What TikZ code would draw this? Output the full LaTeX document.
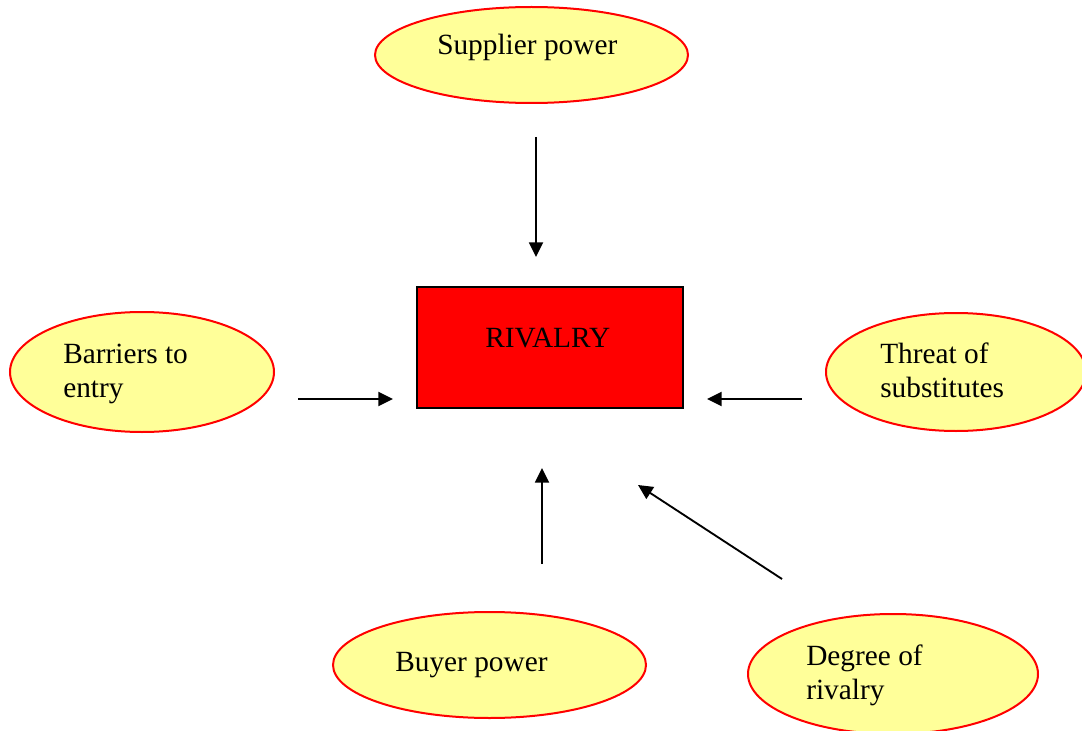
\documentclass[tikz,border=0pt]{standalone}
\usepackage{fontspec}
\setmainfont{Liberation Serif}
\usetikzlibrary{shapes.geometric,arrows.meta}
\definecolor{pale}{HTML}{FFFF99}
\begin{document}
\begin{tikzpicture}[x=0.75pt,y=-0.75pt,
  force/.style={ellipse,draw=red,fill=pale,line width=1.5pt,inner sep=0pt},
  centre/.style={rectangle,draw=black,fill=red,line width=1.6pt,inner sep=0pt,minimum width={266*0.75pt},minimum height={121*0.75pt}},
  lbl/.style={anchor=base west,inner sep=0pt,font=\fontsize{22}{25.5}\selectfont,align=left},
  arr/.style={line width=1.4pt,-{Triangle[length=11pt,width=10.5pt]}}]
\useasboundingbox (0,0) rectangle (1082,731);
\clip (0,0) rectangle (1082,731);
% ellipses
\node[force,minimum width={313*0.75pt},minimum height={96*0.75pt}] (sup) at (531.5,55) {};
\node[force,minimum width={264*0.75pt},minimum height={120*0.75pt}] (bar) at (142,372) {};
\node[force,minimum width={260*0.75pt},minimum height={118*0.75pt}] (thr) at (956,372) {};
\node[force,minimum width={313*0.75pt},minimum height={106*0.75pt}] (buy) at (489.5,665) {};
\node[force,minimum width={290*0.75pt},minimum height={120*0.75pt}] (deg) at (893,674) {};
% centre box
\node[centre] (riv) at (550,347.5) {};
% texts (base anchor = baseline of last line)
\node[lbl] (tsup) at (437,55) {Supplier power};
\node[lbl] (tbar) at (63,397) {Barriers to\\entry};
\node[lbl] (tthr) at (880,397) {Threat of\\substitutes};
\node[lbl] (tbuy) at (395,671) {Buyer power};
\node[lbl] (tdeg) at (806,699) {Degree of\\rivalry};
\node[lbl] (triv) at (485,347) {RIVALRY};
% arrow end points
\coordinate (a1s) at (536,137); \coordinate (a1e) at (536,257);
\coordinate (a2s) at (298,399); \coordinate (a2e) at (393,399);
\coordinate (a3s) at (802,399); \coordinate (a3e) at (707,399);
\coordinate (a4s) at (542,564); \coordinate (a4e) at (542,468);
\coordinate (a5s) at (782,579); \coordinate (a5e) at (638,485);
\draw[arr] (a1s) -- (a1e);
\draw[arr] (a2s) -- (a2e);
\draw[arr] (a3s) -- (a3e);
\draw[arr] (a4s) -- (a4e);
\draw[arr] (a5s) -- (a5e);
\end{tikzpicture}
\end{document}
